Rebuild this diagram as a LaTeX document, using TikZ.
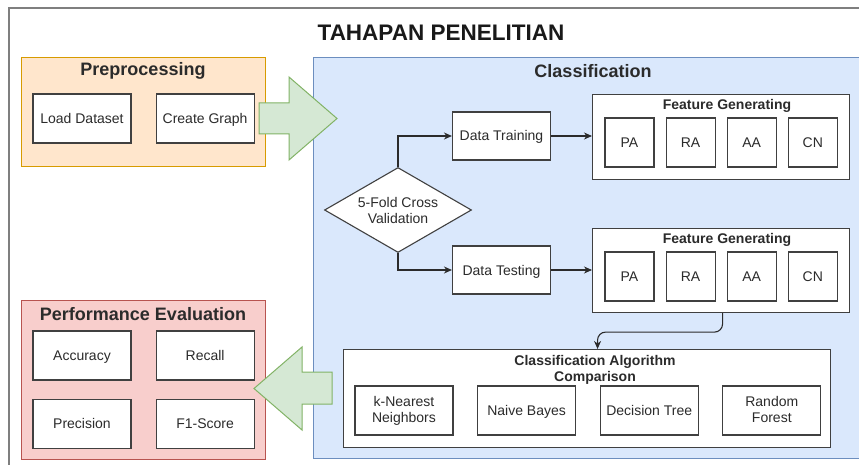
\documentclass[tikz,border=0pt]{standalone}
\usepackage{fontspec}
\setmainfont{Liberation Sans}
\usetikzlibrary{arrows.meta,positioning,shapes.geometric}
\definecolor{prepfill}{HTML}{FFE6CC}
\definecolor{prepline}{HTML}{D79B00}
\definecolor{clsfill}{HTML}{DAE8FC}
\definecolor{clsline}{HTML}{6C8EBF}
\definecolor{evalfill}{HTML}{F8CECC}
\definecolor{evalline}{HTML}{B85450}
\definecolor{bigfill}{HTML}{D5E8D4}
\definecolor{bigline}{HTML}{82B366}
\definecolor{framegray}{HTML}{7F7F7F}
\definecolor{ink}{HTML}{2B2B2B}
\tikzset{
  group/.style={draw,line width=1pt,anchor=north west,inner sep=0pt},
  item/.style={draw=ink!90,fill=white,line width=1.1pt,align=center,
    minimum width=98,minimum height=49,inner sep=1pt,text=ink,
    font=\fontsize{14}{16}\selectfont,execute at begin node={\rule[-3pt]{0pt}{16pt}}},
  feat/.style={item,minimum width=49,minimum height=49},
  panel/.style={draw=ink!90,fill=white,line width=1.1pt,anchor=north west,inner sep=0pt},
  grouptitle/.style={font=\fontsize{18}{21}\selectfont\bfseries,text=ink,inner sep=0pt},
  paneltitle/.style={font=\fontsize{14}{16}\selectfont\bfseries,text=ink,align=center,inner sep=0pt},
  decision/.style={diamond,draw=ink!90,fill=white,line width=1.1pt,aspect=1.73,
    minimum width=147,minimum height=85,inner sep=0pt,align=center,text=ink,
    font=\fontsize{14}{16}\selectfont},
  arrow/.style={-{Stealth[length=8pt,width=7pt,inset=2.5pt]},draw=ink,line width=1.1pt},
  blockarrow/.style={draw=bigline,fill=bigfill,line width=1pt,line join=miter}
}
\begin{document}
\begin{tikzpicture}[x=1pt,y=-1pt,node distance=11pt and 11pt]
  \useasboundingbox (0,0) rectangle (859,465);
  \clip (0,0) rectangle (859,465);
  \fill[white] (0,0) rectangle (859,465);
  \draw[framegray,line width=1.5pt] (9,8) rectangle (880,480);
  \node[font=\fontsize{22.5}{26}\selectfont\bfseries,text=black!90] (title) at (441,33) {TAHAPAN PENELITIAN};

  \node[group,draw=prepline,fill=prepfill,minimum width=244,minimum height=109] (prep) at (21,57) {};
  \node[group,draw=clsline,fill=clsfill,minimum width=570,minimum height=401] (cls) at (313,57) {};
  \node[group,draw=evalline,fill=evalfill,minimum width=244,minimum height=159] (eval) at (21,300) {};
  \node[grouptitle] (preptitle) at (143,71) {Preprocessing};
  \node[grouptitle] (clstitle) at (593,71) {Classification};
  \node[grouptitle] (evaltitle) at (143,314) {Performance Evaluation};

  \node[item] (load) at (82,118.5) {Load Dataset};
  \node[item,right=24pt of load] (graph) {Create Graph};

  \node[item] (acc) at (82,355.5) {Accuracy};
  \node[item,right=24pt of acc] (recall) {Recall};
  \node[item,below=18pt of acc] (prec) {Precision};
  \node[item,right=24pt of prec] (fscore) {F1-Score};

  \node[decision] (cv) at (398,210) {5-Fold Cross\\Validation};
  \node[item,minimum height=48] (train) at (501.5,136) {Data Training};
  \node[item,minimum height=48] (test) at (501.5,270) {Data Testing};

  \node[panel,minimum width=257,minimum height=85] (fgtrain) at (592,94) {};
  \node[paneltitle] (fgtraintitle) at (727,106) {Feature Generating};
  \node[feat] (patrain) at (629.5,142.5) {PA};
  \node[feat,right=of patrain] (ratrain) {RA};
  \node[feat,right=of ratrain] (aatrain) {AA};
  \node[feat,right=of aatrain] (cntrain) {CN};

  \node[panel,minimum width=257,minimum height=84] (fgtest) at (592,228) {};
  \node[paneltitle] (fgtesttitle) at (727,240) {Feature Generating};
  \node[feat] (patest) at (629.5,276.5) {PA};
  \node[feat,right=of patest] (ratest) {RA};
  \node[feat,right=of ratest] (aatest) {AA};
  \node[feat,right=of aatest] (cntest) {CN};

  \node[panel,minimum width=487,minimum height=98] (algo) at (343,349) {};
  \node[paneltitle] (algotitle) at (595,370) {Classification Algorithm\\Comparison};
  \node[item] (knn) at (404,410.5) {k-Nearest\\Neighbors};
  \node[item,right=23.5pt of knn] (nb) {Naive Bayes};
  \node[item,right=23.5pt of nb] (dt) {Decision Tree};
  \node[item,right=23.5pt of dt] (rf) {Random\\Forest};

  \draw[arrow] (cv.north) |- (train.west);
  \draw[arrow] (cv.south) |- (test.west);
  \draw[arrow] (train.east) -- (train.east -| fgtrain.west);
  \draw[arrow] (test.east) -- (test.east -| fgtest.west);
  \draw[arrow,rounded corners=8pt] ([xshift=1.5]fgtest.south) -- ++(0,19) -| ([xshift=10.5]algo.north);

  \draw[blockarrow] (259,103) -- (289,103) -- (289,77) -- (337,118.5) -- (289,160) -- (289,134) -- (259,134) -- cycle;
  \draw[blockarrow] (332,372) -- (302,372) -- (302,347) -- (254,388.5) -- (302,430) -- (302,404) -- (332,404) -- cycle;
\end{tikzpicture}
\end{document}
